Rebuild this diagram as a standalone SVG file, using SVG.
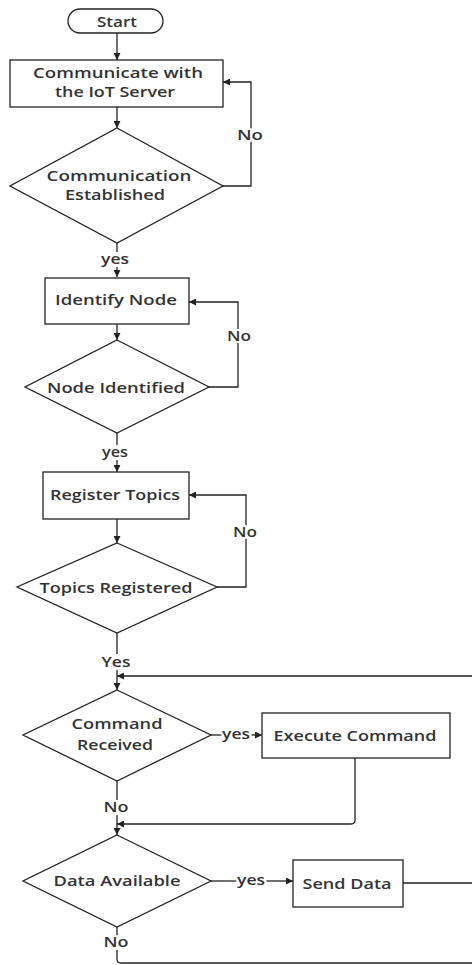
<svg xmlns="http://www.w3.org/2000/svg" width="472" height="965" viewBox="0 0 472 965">
<defs>
<marker id="ah" viewBox="0 0 10 10" refX="10" refY="5" markerWidth="7" markerHeight="7" markerUnits="userSpaceOnUse" orient="auto">
<path d="M0,0 L10,5 L0,10 z" fill="#222"/>
</marker>
<style>
.s{fill:#fff;stroke:#222;stroke-width:1.3}
.c{fill:none;stroke:#222;stroke-width:1.3}
.a{marker-end:url(#ah)}
text{font-family:"Open Sans","Liberation Sans",sans-serif;font-size:14px;font-weight:600;fill:#333;text-anchor:middle}
.l{stroke:#fff;stroke-width:4px;paint-order:stroke;stroke-linejoin:round}
</style>
</defs>
<rect width="472" height="965" fill="#fff"/>
<g id="connectors">
<line class="c a" x1="117" y1="33" x2="117" y2="60"/>
<line class="c a" x1="117" y1="107" x2="117" y2="128"/>
<polyline class="c a" points="223,186 251,186 251,82 223,82"/>
<line class="c" x1="117" y1="243" x2="117" y2="252"/>
<line class="c a" x1="117" y1="267" x2="117" y2="277"/>
<line class="c a" x1="117" y1="324" x2="117" y2="340"/>
<polyline class="c a" points="209,387 238,387 238,302 189,302"/>
<line class="c" x1="117" y1="433" x2="117" y2="445"/>
<line class="c a" x1="117" y1="460" x2="117" y2="472"/>
<line class="c a" x1="117" y1="519" x2="117" y2="543"/>
<polyline class="c a" points="217,587 246,587 246,495 189,495"/>
<line class="c" x1="117" y1="633" x2="117" y2="654"/>
<line class="c a" x1="117" y1="670" x2="117" y2="690"/>
<polyline class="c a" points="403,883 476,883 476,676 117,676"/>
<line class="c" x1="211" y1="735" x2="222" y2="735"/>
<line class="c a" x1="250" y1="735" x2="262" y2="735"/>
<line class="c" x1="117" y1="781" x2="117" y2="800"/>
<line class="c a" x1="117" y1="815" x2="117" y2="835"/>
<path class="c a" d="M355,758 V820 Q355,824 351,824 H117"/>
<line class="c" x1="211" y1="881" x2="237" y2="881"/>
<line class="c a" x1="265" y1="881" x2="293" y2="881"/>
<line class="c" x1="117" y1="927" x2="117" y2="936"/>
<path class="c" d="M117,950 V959 Q117,963 121,963 H476 V676"/>
</g>
<g id="start">
<rect class="s" x="68" y="9" width="95" height="24" rx="12"/>
<text x="117" y="27" textLength="40" lengthAdjust="spacingAndGlyphs">Start</text>
</g>
<g id="communicate">
<rect class="s" x="10" y="60" width="213" height="47"/>
<text x="118" y="78" textLength="170" lengthAdjust="spacingAndGlyphs">Communicate with</text>
<text x="115" y="97" textLength="120" lengthAdjust="spacingAndGlyphs">the IoT Server</text>
</g>
<g id="comm-established">
<polygon class="s" points="117,128 223,186 117,243 10,186"/>
<text x="119" y="181" textLength="145" lengthAdjust="spacingAndGlyphs">Communication</text>
<text x="115" y="200" textLength="100" lengthAdjust="spacingAndGlyphs">Established</text>
</g>
<g id="identify-node">
<rect class="s" x="45" y="278" width="144" height="46"/>
<text x="116" y="305" textLength="122" lengthAdjust="spacingAndGlyphs">Identify Node</text>
</g>
<g id="node-identified">
<polygon class="s" points="117,340 209,387 117,433 25,387"/>
<text x="116" y="393" textLength="138" lengthAdjust="spacingAndGlyphs">Node Identified</text>
</g>
<g id="register-topics">
<rect class="s" x="43" y="472" width="146" height="47"/>
<text x="115" y="500" textLength="130" lengthAdjust="spacingAndGlyphs">Register Topics</text>
</g>
<g id="topics-registered">
<polygon class="s" points="117,543 217,587 117,633 17,587"/>
<text x="116" y="593" textLength="153" lengthAdjust="spacingAndGlyphs">Topics Registered</text>
</g>
<g id="command-received">
<polygon class="s" points="117,690 211,735 117,781 23,735"/>
<text x="117" y="729" textLength="91" lengthAdjust="spacingAndGlyphs">Command</text>
<text x="115" y="750" textLength="76" lengthAdjust="spacingAndGlyphs">Received</text>
</g>
<g id="execute-command">
<rect class="s" x="262" y="713" width="188" height="45"/>
<text x="355" y="741" textLength="163" lengthAdjust="spacingAndGlyphs">Execute Command</text>
</g>
<g id="data-available">
<polygon class="s" points="117,835 211,881 117,927 23,881"/>
<text x="117" y="886" textLength="127" lengthAdjust="spacingAndGlyphs">Data Available</text>
</g>
<g id="send-data">
<rect class="s" x="293" y="860" width="110" height="47"/>
<text x="347" y="889" textLength="89" lengthAdjust="spacingAndGlyphs">Send Data</text>
</g>
<g id="labels">
<text class="l" x="250" y="140" textLength="26" lengthAdjust="spacingAndGlyphs">No</text>
<text class="l" x="115" y="264" textLength="28" lengthAdjust="spacingAndGlyphs">yes</text>
<text class="l" x="239" y="341" textLength="24" lengthAdjust="spacingAndGlyphs">No</text>
<text class="l" x="115" y="457" textLength="26" lengthAdjust="spacingAndGlyphs">yes</text>
<text class="l" x="245" y="537" textLength="24" lengthAdjust="spacingAndGlyphs">No</text>
<text class="l" x="116" y="667" textLength="29" lengthAdjust="spacingAndGlyphs">Yes</text>
<text class="l" x="236" y="739" textLength="28" lengthAdjust="spacingAndGlyphs">yes</text>
<text class="l" x="116" y="812" textLength="25" lengthAdjust="spacingAndGlyphs">No</text>
<text class="l" x="251" y="885" textLength="28" lengthAdjust="spacingAndGlyphs">yes</text>
<text class="l" x="116" y="947" textLength="25" lengthAdjust="spacingAndGlyphs">No</text>
</g>
</svg>
